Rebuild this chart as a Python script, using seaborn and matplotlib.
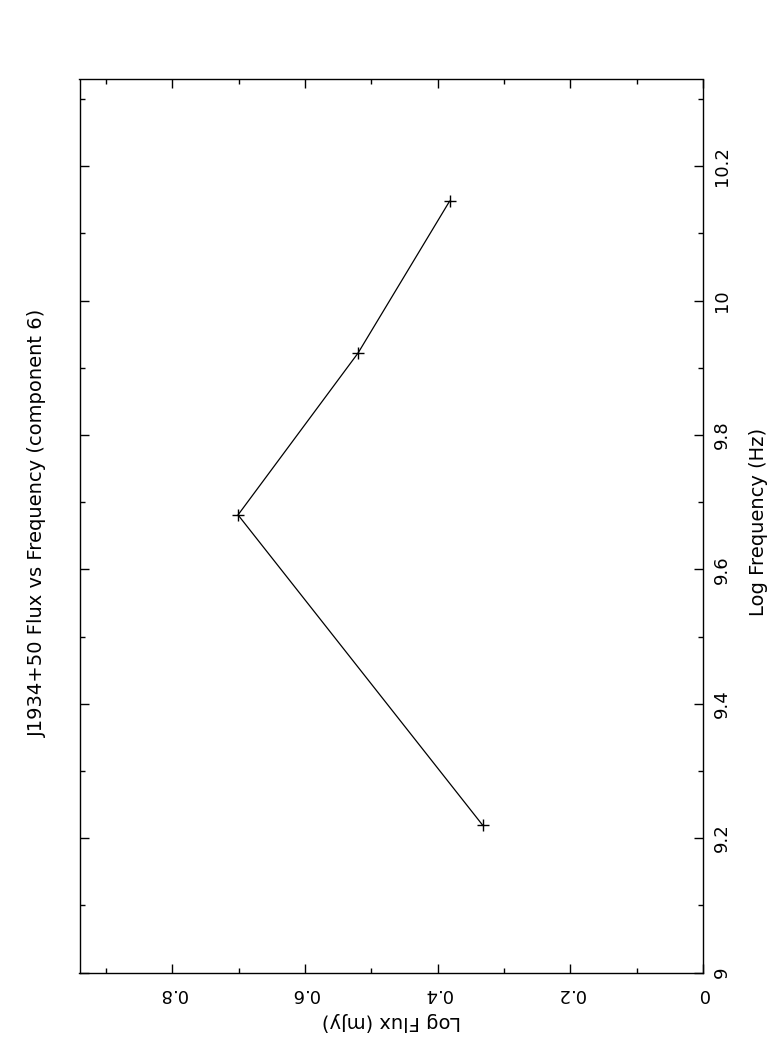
import matplotlib
matplotlib.use("Agg")
import matplotlib.pyplot as plt
import seaborn as sns
import pandas as pd

# data
log_freq = [9.219, 9.681, 9.922, 10.148]
log_flux = [0.332, 0.701, 0.520, 0.382]
freq_ticks = [9.0, 9.2, 9.4, 9.6, 9.8, 10.0, 10.2]
freq_labels = ["9", "9.2", "9.4", "9.6", "9.8", "10", "10.2"]
flux_ticks = [0.0, 0.2, 0.4, 0.6, 0.8]
flux_labels = ["0", "0.2", "0.4", "0.6", "0.8"]

sns.set_style("ticks")
plt.rcParams['font.family'] = ['DejaVu Sans']
plt.rcParams['text.color'] = 'black'
plt.rcParams['xtick.labelcolor'] = 'black'
plt.rcParams['ytick.labelcolor'] = 'black'

df = pd.DataFrame({'flux': log_flux, 'freq': log_freq})

W, H = 782, 1051
fig = plt.figure(figsize=(W / 100, H / 100), dpi=100)
ax = fig.add_axes([79.5 / W, (H - 972.5) / H, (703 - 79.5) / W, (972.5 - 79.5) / H])

sns.lineplot(data=df, x='flux', y='freq', sort=False, ax=ax, color='black',
             linewidth=0.9, marker='+', markersize=9, markeredgewidth=1.0,
             markeredgecolor='black', estimator=None)

# page is rotated: flux runs right-to-left along the bottom, frequency up the right side
ax.set_xlim(0.940, 0.0)
ax.set_ylim(9.0, 10.329)

ax.set_xticks(flux_ticks)
ax.set_xticklabels(flux_labels)
ax.set_xticks([0.1, 0.3, 0.5, 0.7, 0.9], minor=True)
ax.set_yticks(freq_ticks)
ax.set_yticklabels(freq_labels)
ax.set_yticks([9.1, 9.3, 9.5, 9.7, 9.9, 10.1, 10.3], minor=True)

ax.tick_params(axis='both', which='both', direction='in', color='black', width=1.0,
               top=True, bottom=True, left=True, right=True,
               labelleft=False, labelright=True, labeltop=False, labelbottom=True)
ax.tick_params(axis='both', which='major', length=6.5, labelsize=13, labelcolor='black')
ax.tick_params(axis='both', which='minor', length=3.5)
ax.tick_params(axis='x', which='major', labelrotation=180, pad=9)
ax.tick_params(axis='y', which='major', labelrotation=90, pad=7)
for lab in ax.get_yticklabels():
    lab.set_va('center')

for sp in ax.spines.values():
    sp.set_color('black')
    sp.set_linewidth(1.0)

ax.set_xlabel('')
ax.set_ylabel('')
fig.text(391 / W, 1 - 1022 / H, 'Log Flux (mJy)', rotation=180, ha='center', va='center',
         fontsize=14, color='black')
fig.text(758 / W, 1 - 522 / H, 'Log Frequency (Hz)', rotation=90, ha='center', va='center',
         fontsize=14, color='black')
fig.text(37 / W, 1 - 523 / H, 'J1934+50 Flux vs Frequency (component 6)', rotation=90,
         ha='center', va='center', fontsize=14, color='black')

fig.savefig('out.png', dpi=100, facecolor='white')
